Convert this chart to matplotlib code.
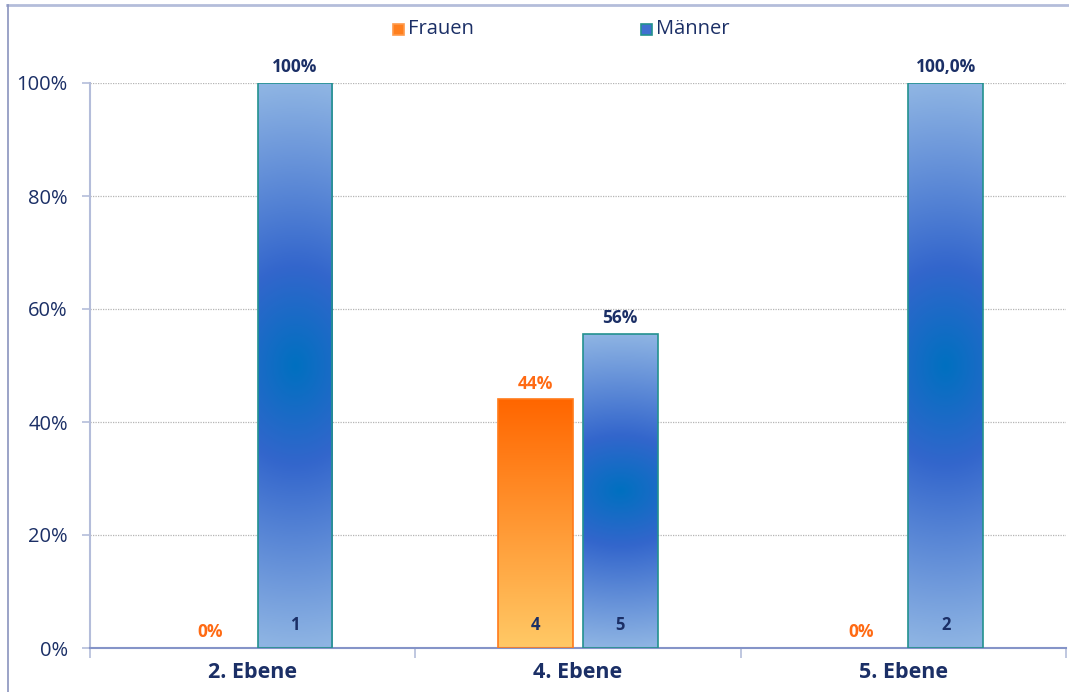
import numpy as np
import matplotlib
matplotlib.use("Agg")
import matplotlib.pyplot as plt
from matplotlib.colors import LinearSegmentedColormap
from matplotlib.patches import Rectangle
from matplotlib.lines import Line2D

plt.rcParams['font.family'] = ['Open Sans', 'DejaVu Sans']

# -------------------------
# Data
# -------------------------
categories = ['2. Ebene', '4. Ebene', '5. Ebene']
frauen_share = [0.0, 0.44, 0.0]
maenner_share = [1.0, 0.556, 1.0]
frauen_labels = ['0%', '44%', '0%']
maenner_labels = ['100%', '56%', '100,0%']
frauen_counts = ['', '4', '']
maenner_counts = ['1', '5', '2']
y_ticks = [0, 0.2, 0.4, 0.6, 0.8, 1.0]
y_tick_labels = ['0%', '20%', '40%', '60%', '80%', '100%']

navy = '#1B2F66'
orange_txt = '#FF6A13'
bar_w = 0.23
offset = 0.13

blue_cmap = LinearSegmentedColormap.from_list(
    'blue', [(0.0, '#0070C0'), (0.35, '#3366CC'), (1.0, '#8EB4E3')])
orange_cmap = LinearSegmentedColormap.from_list(
    'orange', [(0.0, '#FF6600'), (1.0, '#FFC966')])

fig = plt.figure(figsize=(10.69, 6.92), dpi=100)
ax = fig.add_axes([90 / 1069, 1 - 648 / 692, 976 / 1069, 565 / 692])
ax.set_xlim(-0.5, 2.5)
ax.set_ylim(0, 1)


def gradient_bar(x, h, kind):
    if h <= 0:
        return
    x0 = x - bar_w / 2
    if kind == 'blue':
        u = np.linspace(-1, 1, 60)
        v = np.linspace(-1, 1, 300)
        U, V = np.meshgrid(u, v)
        d = np.clip(np.sqrt(V ** 2 + (0.18 * U) ** 2), 0, 1)
        img = blue_cmap(d)
        edge = '#23918F'
    else:
        v = np.linspace(0, 1, 300)
        img = orange_cmap(np.tile(v[:, None], (1, 60)))
        edge = '#FF7A1A'
    im = ax.imshow(img, extent=[x0, x0 + bar_w, 0, h], origin='upper',
                   aspect='auto', zorder=2, interpolation='bilinear')
    rect = Rectangle((x0, 0), bar_w, h, facecolor='none', edgecolor=edge,
                     linewidth=1.2, zorder=3)
    ax.add_patch(rect)
    im.set_clip_path(rect)


xs = np.arange(len(categories))
for i, x in enumerate(xs):
    gradient_bar(x - offset, frauen_share[i], 'orange')
    gradient_bar(x + offset, maenner_share[i], 'blue')
    ax.text(x - offset, frauen_share[i] + 0.012, frauen_labels[i], ha='center',
            va='bottom', color=orange_txt, fontsize=12.5, fontweight='bold', zorder=4)
    ax.text(x + offset, maenner_share[i] + 0.012, maenner_labels[i], ha='center',
            va='bottom', color=navy, fontsize=12.5, fontweight='bold', zorder=4)
    if frauen_counts[i]:
        ax.text(x - offset, 0.04, frauen_counts[i], ha='center', va='center',
                color=navy, fontsize=12, fontweight='bold', zorder=4)
    ax.text(x + offset, 0.04, maenner_counts[i], ha='center', va='center',
            color=navy, fontsize=12, fontweight='bold', zorder=4)

# axes styling
ax.set_yticks(y_ticks)
ax.set_yticklabels(y_tick_labels, fontsize=14.5, color=navy)
ax.set_xticks(xs)
ax.set_xticklabels(categories, fontsize=15.5, fontweight='bold', color=navy)
ax.tick_params(axis='x', length=0, pad=10)
ax.set_xticks([-0.5, 0.5, 1.5, 2.5], minor=True)
ax.tick_params(axis='x', which='minor', length=7, color='#B4BDDA', width=1.2)
ax.tick_params(axis='y', length=6, color='#B4BDDA', width=1.2, pad=10)
ax.grid(axis='y', color='#B5B5B5', linestyle=(0, (1, 1)), linewidth=0.9, zorder=0)
ax.set_axisbelow(True)
for s in ['top', 'right']:
    ax.spines[s].set_visible(False)
ax.spines['left'].set_color('#B4BDDA')
ax.spines['left'].set_linewidth(1.5)
ax.spines['bottom'].set_color('#8594C8')
ax.spines['bottom'].set_linewidth(1.5)

# legend
W, H = 1069, 692
for px, lab, fc, ec in [(393, 'Frauen', '#FF7F1E', '#FF9A4A'),
                        (641, 'Männer', '#3F6FD0', '#23918F')]:
    fig.patches.append(Rectangle((px / W, 1 - 35 / H), 11 / W, 11 / H,
                                 transform=fig.transFigure, facecolor=fc,
                                 edgecolor=ec, linewidth=1.2))
    fig.text((px + 15) / W, 1 - 29 / H, lab, ha='left', va='center',
             fontsize=14.5, color=navy)

# outer frame (top and left)
fig.add_artist(Line2D([7 / W, 1], [1 - 5 / H, 1 - 5 / H],
                      transform=fig.transFigure, color='#B4BDDA', linewidth=2))
fig.add_artist(Line2D([7.5 / W, 7.5 / W], [0, 1 - 5 / H],
                      transform=fig.transFigure, color='#8A93BE', linewidth=1.2))

fig.savefig('out.png', dpi=100)
plt.close(fig)
